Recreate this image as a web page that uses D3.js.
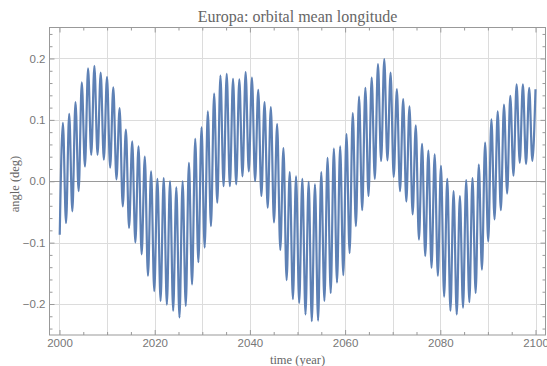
<!DOCTYPE html>
<html>
<head>
<meta charset="utf-8">
<script src="https://cdn.jsdelivr.net/npm/d3@7"></script>
<style>
  body { margin: 0; background: #fff; }
  text { fill: #666; }
</style>
</head>
<body>
<div id="chart"></div>
<script>
// successive maxima of the fast oscillation (deg)
var peaks = [
  0.095, 0.110, 0.129, 0.161, 0.184, 0.188, 0.177, 0.170, 0.153, 0.119, 0.084, 0.065, 0.057,
  0.040, 0.016, 0.004, 0.005, 0.000, -0.010, 0.000, 0.030, 0.069, 0.088, 0.114, 0.143,
  0.172, 0.175, 0.167, 0.166, 0.178, 0.169, 0.149, 0.129, 0.121, 0.093, 0.054, 0.015, 0.008,
  0.004, -0.001, -0.005, 0.015, 0.038, 0.053, 0.057, 0.077, 0.111, 0.138, 0.152, 0.169, 0.191,
  0.199, 0.177, 0.150, 0.134, 0.122, 0.091, 0.061, 0.050, 0.044, 0.025, 0.004, -0.016,
  -0.024, 0.002, 0.005, 0.027, 0.063, 0.101, 0.114, 0.125, 0.139, 0.158, 0.158, 0.152, 0.150
];
// minima: first one before the first peak, then one after each peak
var troughs = [
  -0.087,
  -0.068, -0.049, -0.016, 0.024, 0.043, 0.043, 0.035, 0.022, 0.003, -0.041, -0.076, -0.100, -0.119,
  -0.154, -0.179, -0.195, -0.201, -0.211, -0.222, -0.203, -0.168, -0.132, -0.108, -0.073, -0.035,
  -0.008, -0.008, -0.005, 0.008, 0.016, 0.000, -0.024, -0.043, -0.067, -0.112, -0.161, -0.192, -0.198,
  -0.217, -0.228, -0.227, -0.195, -0.182, -0.165, -0.153, -0.117, -0.073, -0.047, -0.024, 0.004, 0.033,
  0.034, 0.007, -0.016, -0.033, -0.054, -0.095, -0.122, -0.141, -0.154, -0.188, -0.211, -0.217,
  -0.206, -0.197, -0.182, -0.144, -0.098, -0.062, -0.047, -0.020, 0.009, 0.030, 0.028, 0.033
];
var firstYear = 2000.05, lastYear = 2100.0;   // first minimum, last maximum
var xTickLabels = [2000, 2020, 2040, 2060, 2080, 2100];
var yTickLabels = [-0.2, -0.1, 0.0, 0.1, 0.2];
var xGrid = [2000, 2010, 2020, 2030, 2040, 2050, 2060, 2070, 2080, 2090, 2100];

// alternate min / max, evenly spaced in time
var series = [];
var nExt = troughs.length + peaks.length;
var step = (lastYear - firstYear) / (nExt - 1);
for (var i = 0; i < troughs.length; i++) {
  series.push({ t: firstYear + (2 * i) * step, v: troughs[i] });
  if (i < peaks.length) series.push({ t: firstYear + (2 * i + 1) * step, v: peaks[i] });
}

var W = 547, H = 366;
var pL = 49.5, pR = 545.5, pT = 27.5, pB = 335;

var svg = d3.select("#chart").append("svg")
  .attr("width", W).attr("height", H);

var x = d3.scaleLinear().domain([1997.9, 2102.1]).range([pL, pR]);
var y = d3.scaleLinear().domain([-0.2505, 0.2505]).range([pB, pT]);

// grid
svg.append("g").selectAll("line").data(xGrid).enter().append("line")
  .attr("x1", function(d){ return Math.round(x(d)) + 0.5; })
  .attr("x2", function(d){ return Math.round(x(d)) + 0.5; })
  .attr("y1", pT).attr("y2", pB)
  .style("stroke", "#dcdcdc").style("stroke-width", 1);
svg.append("g").selectAll("line").data(yTickLabels).enter().append("line")
  .attr("x1", pL).attr("x2", pR)
  .attr("y1", function(d){ return Math.round(y(d)) + 0.5; })
  .attr("y2", function(d){ return Math.round(y(d)) + 0.5; })
  .style("stroke", d => d === 0 ? "#9a9a9a" : "#dcdcdc").style("stroke-width", 1);

// the curve
svg.append("clipPath").attr("id", "plotclip").append("rect")
  .attr("x", pL).attr("y", pT).attr("width", pR - pL).attr("height", pB - pT);
svg.append("path")
  .datum(series)
  .attr("clip-path", "url(#plotclip)")
  .attr("d", d3.line().x(d => x(d.t)).y(d => y(d.v)).curve(d3.curveMonotoneX))
  .style("fill", "none")
  .style("stroke", "#5e81b5")
  .style("stroke-width", 2.2)
  .style("stroke-linejoin", "round");

// frame with inward ticks
function frameAxis(axis, tr, labels) {
  var g = svg.append("g").attr("transform", tr).call(axis);
  g.select(".domain").remove();
  g.selectAll(".tick line").style("stroke", "#999");
  g.selectAll(".tick text").style("fill", "#777")
    .style("font-family", "'Liberation Sans', Arial, sans-serif").style("font-size", "11.5px");
  if (!labels) g.selectAll(".tick text").remove();
  return g;
}
var xMinor = d3.range(2000, 2101, 5).filter(d => xTickLabels.indexOf(d) < 0);
var yMinor = d3.range(-24, 25, 2).map(d => d / 100).filter(d => Math.abs(d * 10 - Math.round(d * 10)) > 1e-6);

frameAxis(d3.axisBottom(x).tickValues(xTickLabels).tickSize(-5).tickPadding(4).tickFormat(d3.format("d")),
  "translate(0," + pB + ")", true);
frameAxis(d3.axisBottom(x).tickValues(xMinor).tickSize(-3), "translate(0," + pB + ")", false);
frameAxis(d3.axisTop(x).tickValues(xTickLabels).tickSize(-5), "translate(0," + pT + ")", false);
frameAxis(d3.axisTop(x).tickValues(xMinor).tickSize(-3), "translate(0," + pT + ")", false);
frameAxis(d3.axisLeft(y).tickValues(yTickLabels).tickSize(-5).tickPadding(4).tickFormat(d3.format(".1f")),
  "translate(" + pL + ",0)", true);
frameAxis(d3.axisLeft(y).tickValues(yMinor).tickSize(-3), "translate(" + pL + ",0)", false);
frameAxis(d3.axisRight(y).tickValues(yTickLabels).tickSize(-5), "translate(" + pR + ",0)", false);
frameAxis(d3.axisRight(y).tickValues(yMinor).tickSize(-3), "translate(" + pR + ",0)", false);

svg.append("rect")
  .attr("x", pL).attr("y", pT).attr("width", pR - pL).attr("height", pB - pT)
  .style("fill", "none").style("stroke", "#999").style("stroke-width", 1);

// titles
svg.append("text")
  .attr("x", (pL + pR) / 2).attr("y", 22)
  .attr("text-anchor", "middle")
  .style("font-family", "'Liberation Serif', serif").style("font-size", "16px")
  .style("fill", "#666")
  .text("Europa: orbital mean longitude");
svg.append("text")
  .attr("x", (pL + pR) / 2).attr("y", 364)
  .attr("text-anchor", "middle")
  .style("font-family", "'Liberation Serif', serif").style("font-size", "12.5px")
  .style("fill", "#666")
  .text("time (year)");
svg.append("text")
  .attr("transform", "translate(19,184) rotate(-90)")
  .attr("text-anchor", "middle")
  .style("font-family", "'Liberation Serif', serif").style("font-size", "12.5px")
  .style("fill", "#666")
  .text("angle (deg)");
</script>
</body>
</html>
